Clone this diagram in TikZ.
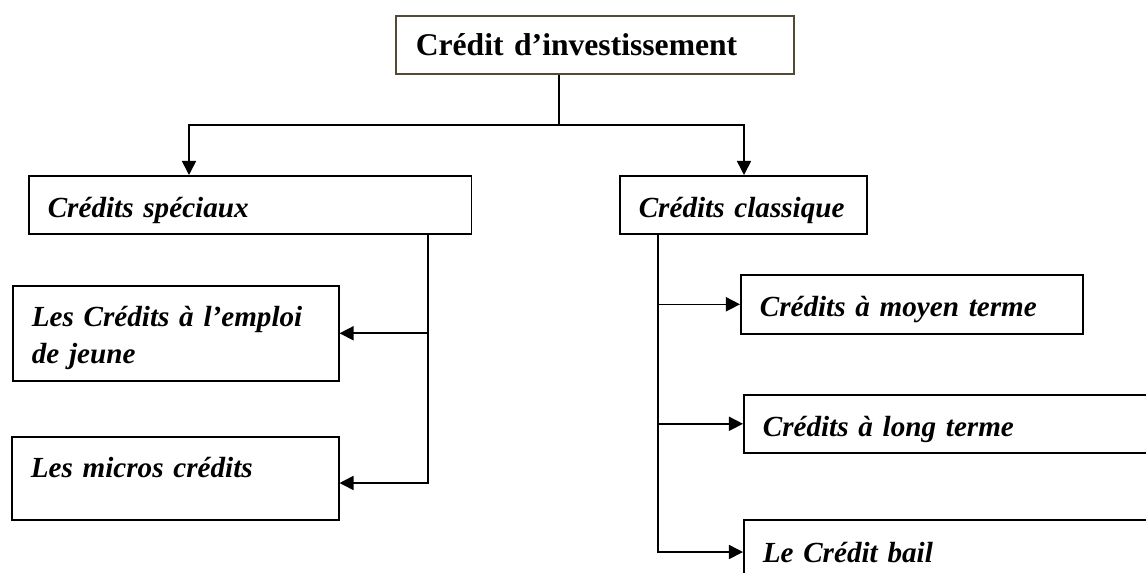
\documentclass[tikz,border=0pt]{standalone}
\usepackage{fontspec}
\setmainfont{Liberation Serif}
\usetikzlibrary{arrows.meta}
\definecolor{titleborder}{RGB}{82,74,50}
\tikzset{
  box/.style={draw=black, line width=0.9pt, anchor=north west, align=left,
    inner xsep=0.38cm, inner ysep=0pt, font=\fontsize{16.6}{21}\selectfont\bfseries\itshape},
  oneline/.style={text height=15pt, text depth=1pt},
  conn/.style={line width=0.9pt, draw=black},
  arr/.style={conn, -{Triangle[length=8pt,width=8pt]}}
}
\begin{document}
\begin{tikzpicture}[x=0.02cm, y=-0.02cm]
\useasboundingbox (0,0) rectangle (1146,572);
\clip (0,0) rectangle (1146,572);
\fill[white] (0,0) rectangle (1146,572);
% boxes
\node[box, draw=titleborder, font=\fontsize{18}{22}\selectfont\bfseries, inner xsep=0.4cm,
  text width=7.16cm, minimum height=1.16cm] (T) at (395,15) {Crédit d’investissement};
\node[box, oneline, text width=8.10cm, minimum height=1.16cm] (CS) at (28,175) {Crédits spéciaux};
\node[box, oneline, text width=4.18cm, minimum height=1.16cm] (CC) at (619,175) {Crédits classique};
\node[box, text width=5.76cm, minimum height=1.9cm, text height=15pt, text depth=22.4pt] (E) at (12,285) {Les Crédits à l’emploi\\de jeune};
\node[box, text width=5.78cm, minimum height=1.66cm, text depth=12pt] (M) at (11,436) {Les micros crédits};
\node[box, oneline, text width=6.08cm, minimum height=1.18cm] (MT) at (740,274) {Crédits à moyen terme};
\node[box, oneline, text width=7.64cm, minimum height=1.16cm] (LT) at (743,394) {Crédits à long terme};
\node[box, text width=7.64cm, minimum height=1.32cm] (CB) at (743,519) {Le Crédit bail};
% junction coordinates
\coordinate (j) at (559,125);
\coordinate (hl) at (189,125);
\coordinate (hr) at (744,125);
\coordinate (vl) at (428,483);
\coordinate (vr) at (658,552);
% connectors
\draw[conn] (T.south -| j) -- (j);
\draw[arr] (j) -- (hl) -- (hl |- CS.north);
\draw[arr] (j) -- (hr) -- (hr |- CC.north);
\draw[arr] (CS.south -| vl) -- (vl) -- (vl -| M.east);
\draw[arr] (vl |- E.east) -- (E.east);
\draw[arr] (CC.south -| vr) -- (vr) -- (vr -| CB.west);
\draw[arr] (vr |- MT.west) -- (MT.west);
\draw[arr] (vr |- LT.west) -- (LT.west);
\end{tikzpicture}
\end{document}
